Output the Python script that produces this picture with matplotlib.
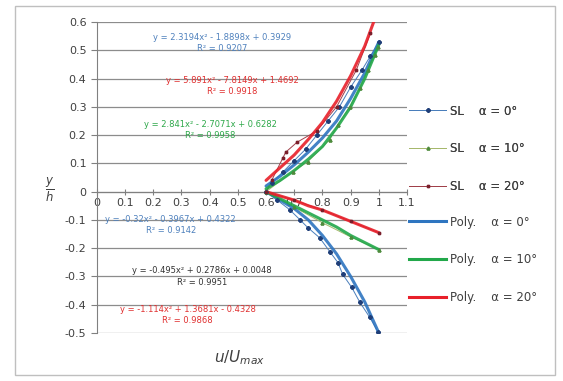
import numpy as np
import matplotlib.pyplot as plt
from matplotlib.lines import Line2D
from matplotlib.patches import Rectangle

# measured profiles (u/Umax, y/h)
sl0_u = [0.996, 0.968, 0.933, 0.904, 0.872, 0.855, 0.826, 0.79, 0.748, 0.72, 0.684, 0.64, 0.6,
         0.62, 0.66, 0.70, 0.74, 0.78, 0.82, 0.86, 0.90, 0.94, 0.97, 1.0]
sl0_y = [-0.495, -0.445, -0.392, -0.339, -0.293, -0.251, -0.212, -0.163, -0.127, -0.099, -0.064, -0.03, 0.0,
         0.03, 0.07, 0.11, 0.15, 0.20, 0.25, 0.30, 0.37, 0.43, 0.48, 0.53]
sl10_u = [1.0, 0.9, 0.8, 0.7, 0.6, 0.695, 0.748, 0.826, 0.855, 0.897, 0.933, 0.961, 0.986, 0.996]
sl10_y = [-0.205, -0.16, -0.11, -0.055, 0.0, 0.071, 0.106, 0.184, 0.237, 0.30, 0.367, 0.431, 0.484, 0.512]
sl20_u = [1.0, 0.9, 0.8, 0.7, 0.6, 0.62, 0.66, 0.67, 0.71, 0.78, 0.85, 0.92, 0.97]
sl20_y = [-0.145, -0.105, -0.065, -0.03, 0.0, 0.04, 0.12, 0.14, 0.175, 0.215, 0.30, 0.43, 0.56]

# polynomial trend lines, upper and lower halves
poly_u = [0.6, 0.65, 0.7, 0.75, 0.8, 0.85, 0.9, 0.95, 1.0]
poly0_up = [0.02, 0.055, 0.095, 0.14, 0.19, 0.25, 0.33, 0.42, 0.53]
poly0_lo = [0.0, -0.03, -0.06, -0.10, -0.155, -0.22, -0.30, -0.39, -0.50]
poly10_up = [0.01, 0.04, 0.075, 0.115, 0.16, 0.225, 0.30, 0.40, 0.52]
poly10_lo = [0.0, -0.025, -0.05, -0.075, -0.10, -0.125, -0.155, -0.18, -0.205]
poly20_up = [0.04, 0.085, 0.13, 0.185, 0.245, 0.32, 0.41, 0.515, 0.65]
poly20_lo = [0.0, -0.015, -0.03, -0.05, -0.065, -0.085, -0.105, -0.125, -0.145]

# trend line equations: (text, u, y, colour)
equations = [
    ("y = 2.3194x² - 1.8898x + 0.3929\nR² = 0.9207", 0.443, 0.525, '#4F81BD'),
    ("y = 5.891x² - 7.8149x + 1.4692\nR² = 0.9918", 0.479, 0.373, '#E03030'),
    ("y = 2.841x² - 2.7071x + 0.6282\nR² = 0.9958", 0.402, 0.218, '#2EA84A'),
    ("y = -0.32x² - 0.3967x + 0.4322\nR² = 0.9142", 0.262, -0.117, '#4F81BD'),
    ("y = -0.495x² + 0.2786x + 0.0048\nR² = 0.9951", 0.372, -0.30, '#333333'),
    ("y = -1.114x² + 1.3681x - 0.4328\nR² = 0.9868", 0.322, -0.435, '#E03030'),
]

angles = ["0°", "10°", "20°"]
sl_colors = ['#4A7EBB', '#A6B86C', '#A0404A']
sl_marker_col = ['#1F3E78', '#4E8B3D', '#7A1F2B']
sl_markers = ['D', '^', 's']
poly_colors = ['#2E75C0', '#22A84A', '#E8202A']

fig = plt.figure(figsize=(5.63, 3.81), dpi=100)
fig.patches.append(Rectangle((15 / 563, 6 / 381), 540 / 563, 369 / 381, transform=fig.transFigure,
                             fill=False, edgecolor='#BFBFBF', lw=1))
ax = fig.add_axes([0.172, 0.126, 0.551, 0.816])

for i, (uu, yy) in enumerate([(sl0_u, sl0_y), (sl10_u, sl10_y), (sl20_u, sl20_y)]):
    ax.plot(uu, yy, color=sl_colors[i], lw=0.7, marker=sl_markers[i], ms=2.0,
            mfc=sl_marker_col[i], mec=sl_marker_col[i], zorder=3)

for i, (uu, yy) in enumerate([(poly0_up, poly0_lo), (poly10_up, poly10_lo), (poly20_up, poly20_lo)]):
    ax.plot(poly_u, uu, color=poly_colors[i], lw=2.2, zorder=4, alpha=0.9, solid_capstyle='round')
    ax.plot(poly_u, yy, color=poly_colors[i], lw=2.2, zorder=4, alpha=0.9, solid_capstyle='round')

# measured points drawn again above the trend lines
for i, (uu, yy) in enumerate([(sl0_u, sl0_y), (sl10_u, sl10_y), (sl20_u, sl20_y)]):
    ax.plot(uu, yy, ls='none', marker=sl_markers[i], ms=2.0,
            mfc=sl_marker_col[i], mec=sl_marker_col[i], zorder=5)

for txt, x, y, c in equations:
    ax.text(x, y, txt, color=c, fontsize=6, ha='center', va='center', linespacing=1.3, zorder=6)

ax.set_xlim(0, 1.1)
ax.set_ylim(-0.5, 0.6)
ax.set_xticks(np.arange(0, 1.11, 0.1))
ax.set_xticklabels(['0', '0.1', '0.2', '0.3', '0.4', '0.5', '0.6', '0.7', '0.8', '0.9', '1', '1.1'])
ax.set_yticks(np.arange(-0.5, 0.61, 0.1))
ax.set_yticklabels(['-0.5', '-0.4', '-0.3', '-0.2', '-0.1', '0', '0.1', '0.2', '0.3', '0.4', '0.5', '0.6'])
ax.yaxis.grid(True, color='#8C8C8C', lw=0.9)
ax.set_axisbelow(True)
for s in ['top', 'right']:
    ax.spines[s].set_visible(False)
ax.spines['bottom'].set_position(('data', 0))
ax.spines['bottom'].set_color('#808080')
ax.spines['left'].set_color('#808080')
ax.tick_params(axis='x', direction='inout', length=5, color='#808080', labelsize=8,
               labelcolor='#404040', pad=2)
ax.tick_params(axis='y', direction='out', length=4, color='#808080', labelsize=8,
               labelcolor='#404040')

fig.text(50 / 563, 1 - 190 / 381, r'$\frac{y}{h}$', fontsize=12, ha='center', va='center', color='#404040')
fig.text(240 / 563, 1 - 358 / 381, r'$u/U_{max}$', fontsize=11, ha='center', va='center', color='#404040')

sl_handles = [Line2D([], [], color=sl_colors[i], lw=0.7, marker=sl_markers[i], ms=2.0,
                     mfc=sl_marker_col[i], mec=sl_marker_col[i]) for i in range(3)]
poly_handles = [Line2D([], [], color=poly_colors[i], lw=2.2) for i in range(3)]
leg1 = fig.legend(sl_handles, ["SL    α = " + a for a in angles], loc='upper left',
                  bbox_to_anchor=(398 / 563, 1 - 94 / 381), frameon=False, fontsize=8.5,
                  labelspacing=2.1, handlelength=3.2, handletextpad=0.3, labelcolor='#404040')
fig.legend(poly_handles, ["Poly.    α = " + a for a in angles], loc='upper left',
           bbox_to_anchor=(398 / 563, 1 - 205 / 381), frameon=False, fontsize=8.5,
           labelspacing=2.1, handlelength=3.2, handletextpad=0.3, labelcolor='#404040')
fig.add_artist(leg1)

fig.savefig('out.png', dpi=100)
